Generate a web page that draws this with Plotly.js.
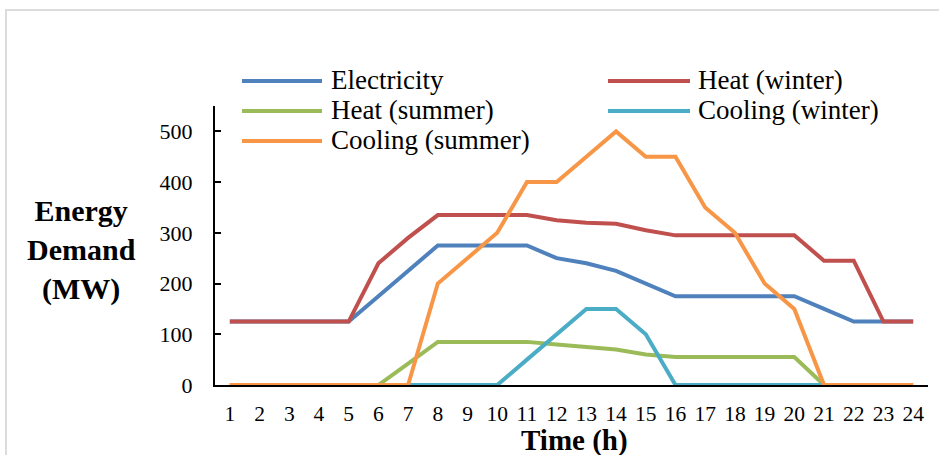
<!DOCTYPE html>
<html>
<head>
<meta charset="utf-8">
<script src="https://cdn.plot.ly/plotly-3.0.1.min.js"></script>
<style>
  html, body { margin: 0; padding: 0; background: #fff; }
  #chart { position: absolute; left: 0; top: 0; width: 939px; height: 455px; }
  #frame { position: absolute; left: 5px; top: 9px; width: 940px; height: 460px;
           border-top: 2px solid #dcdcdc; border-left: 2px solid #dcdcdc; pointer-events: none; }
</style>
</head>
<body>
<div id="chart"></div>
<div id="frame"></div>
<script>
// ---- data ----
const hours = [1,2,3,4,5,6,7,8,9,10,11,12,13,14,15,16,17,18,19,20,21,22,23,24];
const seriesNames = ["Electricity", "Heat (winter)", "Heat (summer)", "Cooling (winter)", "Cooling (summer)"];
const electricity = [125,125,125,125,125,175,225,275,275,275,275,250,240,225,200,175,175,175,175,175,150,125,125,125];
const heatWinter  = [125,125,125,125,125,240,290,335,335,335,335,325,320,318,305,295,295,295,295,295,245,245,125,125];
const heatSummer  = [0,0,0,0,0,0,42,85,85,85,85,80,75,70,60,55,55,55,55,55,0,0,0,0];
const coolWinter  = [0,0,0,0,0,0,0,0,0,0,50,100,150,150,100,0,0,0,0,0,0,0,0,0];
const coolSummer  = [0,0,0,0,0,0,0,200,250,300,400,400,450,500,450,450,350,300,200,150,0,0,0,0];
const yTicks = [0,100,200,300,400,500];

// ---- styles ----
const colors = ["#4F81BD", "#C0504D", "#9BBB59", "#4BACC6", "#F79646"];
const allSeries = [electricity, heatWinter, heatSummer, coolWinter, coolSummer];
const FONT = "'Liberation Serif', 'Times New Roman', serif";

const traces = allSeries.map((ys, i) => ({
  type: "scatter", mode: "lines", x: hours, y: ys, name: seriesNames[i],
  line: { color: colors[i], width: 4 }, cliponaxis: false, hoverinfo: "skip"
}));

// plot area geometry (px)
const L = 215, R = 928, T = 106, B = 385;
const pxX = px => (px - L) / (R - L);
const pxY = py => (B - py) / (B - T);

// custom legend (two columns, long line samples)
const legendPos = [
  { lx0: 242, lx1: 322, tx: 329, y: 81 },
  { lx0: 608, lx1: 690, tx: 696, y: 81 },
  { lx0: 242, lx1: 322, tx: 329, y: 111 },
  { lx0: 608, lx1: 690, tx: 696, y: 111 },
  { lx0: 242, lx1: 322, tx: 329, y: 141 }
];
const shapes = legendPos.map((p, i) => ({
  type: "line", xref: "paper", yref: "paper",
  x0: pxX(p.lx0), x1: pxX(p.lx1), y0: pxY(p.y), y1: pxY(p.y),
  line: { color: colors[i], width: 4 }
}));
const annotations = legendPos.map((p, i) => ({
  xref: "paper", yref: "paper", x: pxX(p.tx), y: pxY(p.y - 1),
  xanchor: "left", yanchor: "middle", showarrow: false,
  text: seriesNames[i], font: { family: FONT, size: 27, color: "#000" }
}));
annotations.push({
  xref: "paper", yref: "paper", x: pxX(81), y: pxY(250),
  xanchor: "center", yanchor: "middle", showarrow: false, align: "center",
  text: "<b>Energy<br>Demand<br>(MW)</b>", font: { family: FONT, size: 30, color: "#000" }
});
annotations.push({
  xref: "paper", yref: "paper", x: pxX(574), y: pxY(440),
  xanchor: "center", yanchor: "middle", showarrow: false, borderpad: 0,
  text: "<b>Time (h)</b>", font: { family: FONT, size: 29, color: "#000" }
});

const layout = {
  width: 939, height: 455,
  margin: { l: L, r: 939 - R, t: T, b: 455 - B, pad: 0 },
  paper_bgcolor: "rgba(0,0,0,0)", plot_bgcolor: "rgba(0,0,0,0)",
  showlegend: false,
  font: { family: FONT, color: "#000" },
  xaxis: {
    range: [0.5, 24.5], tickmode: "array", tickvals: hours, ticktext: hours.map(String),
    showgrid: false, zeroline: false, showline: true, linecolor: "#000", linewidth: 2,
    ticks: "", tickfont: { family: FONT, size: 21.5, color: "#000" },
    ticklabelstandoff: 8, layer: "below traces", fixedrange: true
  },
  yaxis: {
    range: [0, 550], tickmode: "array", tickvals: yTicks, ticktext: yTicks.map(String),
    showgrid: false, zeroline: false, showline: true, linecolor: "#000", linewidth: 2,
    ticks: "inside", ticklen: 6, tickwidth: 2, tickcolor: "#000",
    tickfont: { family: FONT, size: 22, color: "#000" },
    ticklabelstandoff: 16, layer: "below traces", fixedrange: true
  },
  shapes: shapes,
  annotations: annotations
};

Plotly.newPlot("chart", traces, layout, { displayModeBar: false, staticPlot: true });
</script>
</body>
</html>
